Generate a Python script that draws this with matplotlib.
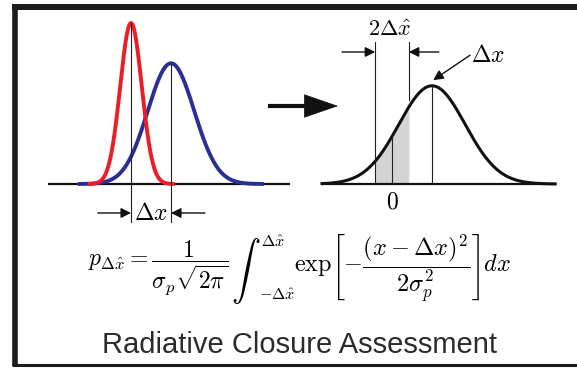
import numpy as np
import matplotlib.pyplot as plt

plt.rcParams['mathtext.fontset'] = 'cm'

# positions in units of the bias dx, heights relative to the red peak
red_mu, red_sigma, red_peak = 0.0, 0.27, 1.0
blue_mu, blue_sigma, blue_peak = 1.0, 0.58, 0.75
red_span = (-1.03, 1.05)
blue_span = (-1.28, 3.28)

obs_mu, obs_sigma, obs_peak = 1.0, 0.83, 0.61
half_window = 0.42
obs_span = (-1.75, 4.08)
left_base = (-2.08, 3.98)

title = "Radiative Closure Assessment"
lhs = r"$p_{\Delta\hat{x}} = \dfrac{1}{\sigma_p\sqrt{2\pi}}$"
upper = r"$\Delta\hat{x}$"
lower = r"$-\Delta\hat{x}$"
rhs = r"$\mathrm{exp}\left[-\dfrac{(x-\Delta x)^2}{2\sigma_p^2}\right]dx$"


def gauss(x, mu, sigma, peak):
    return peak * np.exp(-(x - mu) ** 2 / (2 * sigma ** 2))


fig = plt.figure(figsize=(5.77, 3.68), dpi=100)
W, H = 577, 368
scale = 40.0  # pixels per unit of dx
yscale = 161.0

# left panel: model (red) and observation (blue) pdfs
axl = fig.add_axes([0, 0, 290 / W, 1])
axl.set_xlim(-131 / scale, (290 - 131) / scale)
axl.set_ylim(-184 / yscale, 184 / yscale)
axl.axis('off')

axl.plot(left_base, [0, 0], color='#111111', lw=1.6, solid_capstyle='butt')
xb = np.linspace(*blue_span, 300)
axl.plot(xb, gauss(xb, blue_mu, blue_sigma, blue_peak), color='#2a2f96', lw=2.8)
xr = np.linspace(*red_span, 300)
axl.plot(xr, gauss(xr, red_mu, red_sigma, red_peak), color='#ee1c25', lw=2.8)
axl.plot([red_mu, red_mu], [-0.236, red_peak], color='#222222', lw=0.8)
axl.plot([blue_mu, blue_mu], [-0.236, blue_peak], color='#222222', lw=0.8)

arr = dict(arrowstyle='-|>', color='#111111', lw=1.0, mutation_scale=15,
           shrinkA=0, shrinkB=0)
ya = -0.18
axl.annotate('', xy=(red_mu, ya), xytext=(red_mu - 0.83, ya), arrowprops=arr)
axl.annotate('', xy=(blue_mu, ya), xytext=(blue_mu + 0.85, ya), arrowprops=arr)
axl.text((red_mu + blue_mu) / 2, ya, r'$\Delta x$', fontsize=17,
         ha='center', va='center')

# right panel: bias pdf and the window +/- dx_hat
axr = fig.add_axes([290 / W, 0, (W - 290) / W, 1])
axr.set_xlim(-(392 - 290) / scale, (W - 392) / scale)
axr.set_ylim(-184 / yscale, 184 / yscale)
axr.axis('off')

xs = np.linspace(-half_window, half_window, 100)
axr.fill_between(xs, 0, gauss(xs, obs_mu, obs_sigma, obs_peak),
                 color='#d4d4d4', lw=0)
axr.plot(obs_span, [0, 0], color='#111111', lw=1.6, solid_capstyle='butt')
xo = np.linspace(*obs_span, 400)
axr.plot(xo, gauss(xo, obs_mu, obs_sigma, obs_peak), color='#111111', lw=2.2)

axr.plot([0, 0], [0, gauss(0, obs_mu, obs_sigma, obs_peak)], color='#222222', lw=0.8)
axr.plot([obs_mu, obs_mu], [0, obs_peak], color='#222222', lw=0.8)
axr.plot([-half_window, -half_window], [0, 0.882], color='#222222', lw=0.8)
axr.plot([half_window, half_window], [0.522, 0.882], color='#222222', lw=0.8)

yt = 0.82
axr.annotate('', xy=(-half_window, yt), xytext=(-half_window - 0.83, yt), arrowprops=arr)
axr.annotate('', xy=(half_window, yt), xytext=(half_window + 0.75, yt), arrowprops=arr)
axr.text(-0.05, 0.955, r'$2\Delta\hat{x}$', fontsize=16, ha='center', va='center')
axr.text(0, -0.11, r'$0$', fontsize=17, ha='center', va='center')

axr.annotate('', xy=(obs_mu + 0.03, obs_peak + 0.035), xytext=(1.95, 0.8),
             arrowprops=dict(arrowstyle='-|>', color='#111111', lw=1.0,
                             mutation_scale=15, shrinkA=0, shrinkB=0))
axr.text(1.97, 0.8, r'$\Delta x$', fontsize=17, ha='left', va='center')

# overlay in pixel units for the big arrow, formula, title and frame
ov = fig.add_axes([0, 0, 1, 1], facecolor='none')
ov.set_xlim(0, W)
ov.set_ylim(H, 0)
ov.axis('off')
ov.plot([268, 318], [106, 106], color='#111111', lw=3.0, solid_capstyle='butt')
ov.annotate('', xy=(338, 106), xytext=(314, 106),
            arrowprops=dict(arrowstyle='-|>,head_length=1.3,head_width=0.45',
                            color='#111111', lw=0.5, mutation_scale=18,
                            shrinkA=0, shrinkB=0))

# formula pieces: prefactor, integral sign with limits, integrand
ov.text(88, 268, lhs, fontsize=17, ha='left', va='center')
ov.text(246, 271, r'$\int$', fontsize=21, ha='center', va='center')
ov.text(261, 242, upper, fontsize=11.5, ha='left', va='center')
ov.text(259, 295, lower, fontsize=11.5, ha='left', va='center')
ov.text(294, 268, rhs, fontsize=17.5, ha='left', va='center')

ov.text(300, 345, title, fontsize=21, family='Liberation Sans',
        color='#2b2b2b', ha='center', va='center')

# frame
ov.plot([14.5, 14.5], [4, 366], color='#1c1c1c', lw=4.0, solid_capstyle='butt')
ov.plot([12, W], [7, 7], color='#1c1c1c', lw=4.3, solid_capstyle='butt')
ov.plot([12, W], [364.5, 364.5], color='#1c1c1c', lw=2.2, solid_capstyle='butt')

fig.savefig('out.png', dpi=100)
